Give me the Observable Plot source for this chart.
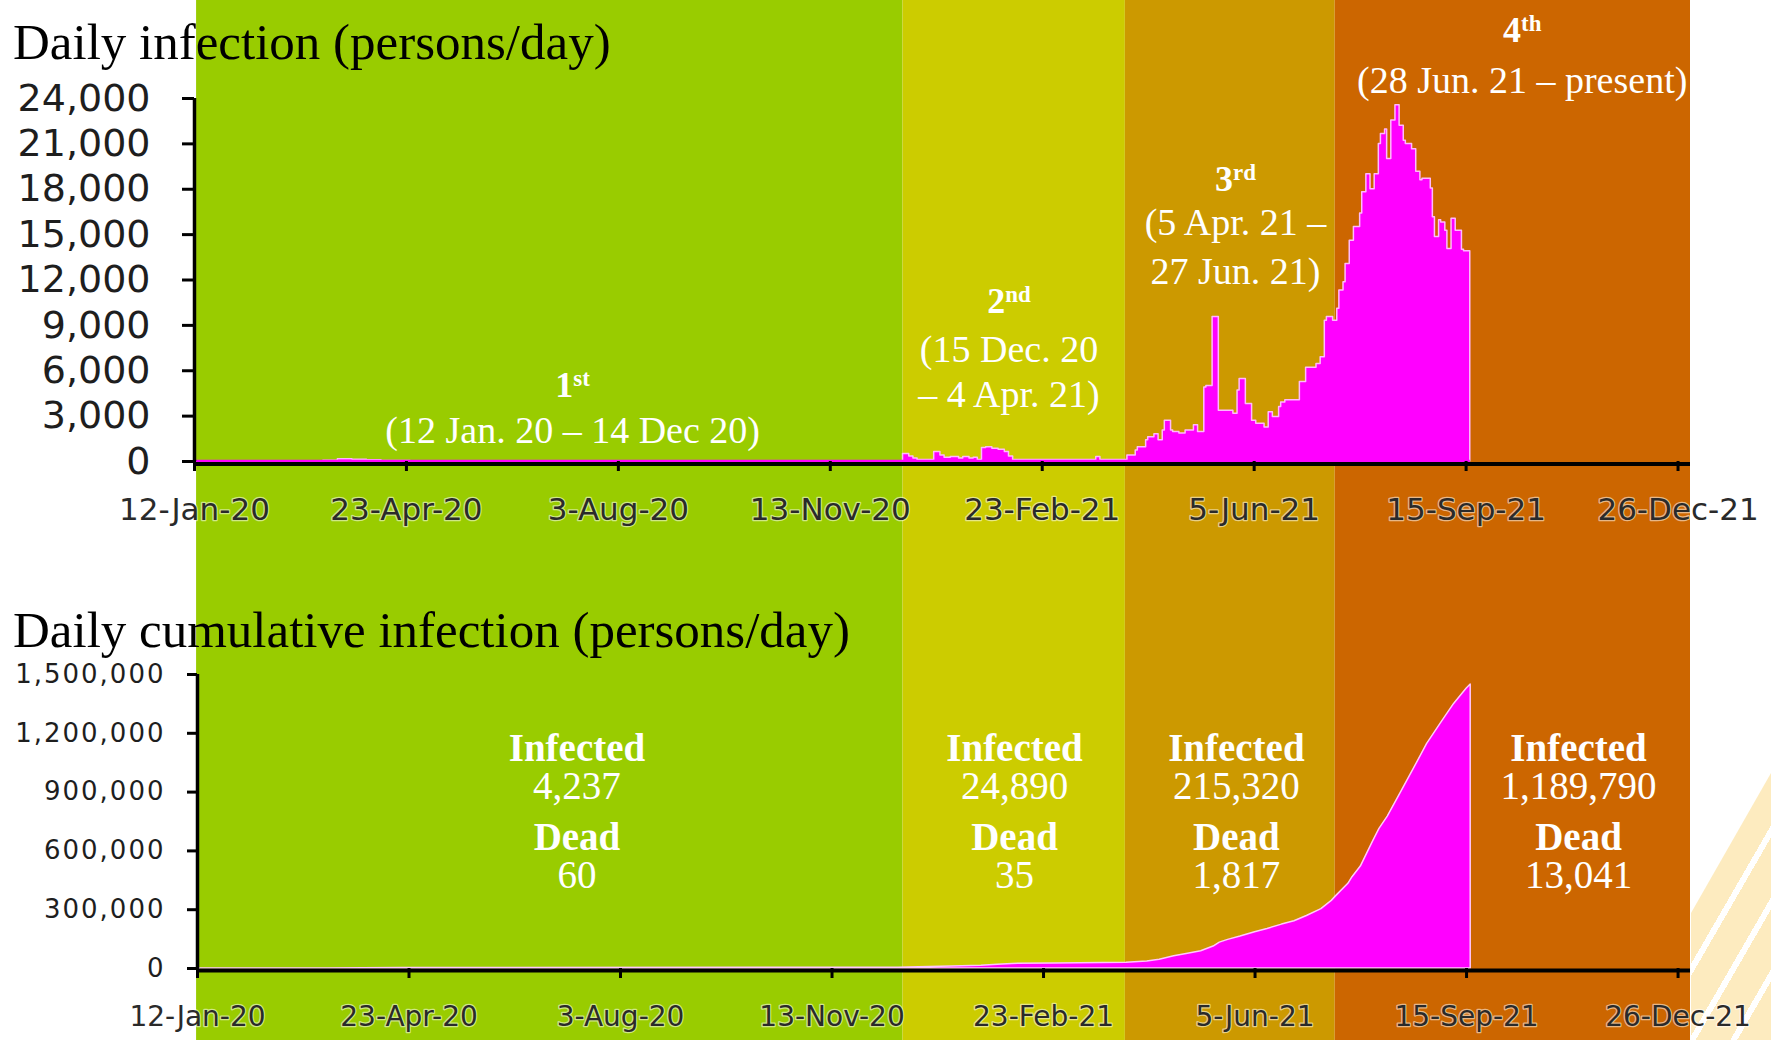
<!DOCTYPE html>
<html>
<head>
<meta charset="utf-8">
<script src="https://cdn.jsdelivr.net/npm/d3@7"></script>
<script src="https://cdn.jsdelivr.net/npm/@observablehq/plot@0.6"></script>
<style>
  html, body { margin: 0; padding: 0; background: #fff; overflow: hidden; }
  #root { position: relative; width: 1771px; height: 1040px; }
  .layer { position: absolute; left: 0; }
  .title { position: absolute; left: 13px; font-family: "Liberation Serif", serif; font-size: 51px; line-height: 51px; color: #000; white-space: nowrap; }
  .deco { position: absolute; left: 1691px; top: 760px; width: 80px; height: 280px;
    background: repeating-linear-gradient(120deg, #fdebbf 0px, #fdebbf 30px, #ffffff 30px, #ffffff 36px);
    clip-path: polygon(0px 153px, 80px 13px, 80px 280px, 0px 280px); }
  svg g[aria-label="x-axis tick label"] text { paint-order: stroke; stroke: #ffffff; stroke-width: 2.5px; stroke-opacity: 0.55; stroke-linejoin: round; }
  #bottom svg g[aria-label="y-axis tick label"] text { letter-spacing: 2px; }
</style>
</head>
<body>
<div id="root">
  <div id="bg" class="layer" style="top:0"></div>
  <div class="deco"></div>
  <div id="top" class="layer" style="top:0"></div>
  <div id="bottom" class="layer" style="top:540px"></div>
  <div class="title" style="top:17px">Daily infection (persons/day)</div>
  <div class="title" style="top:605px">Daily cumulative infection (persons/day)</div>
</div>
<script>
// ---------------- data ----------------
const xDomain = ["2020-01-12", "2022-01-01"];
const xTickLabels = ["12-Jan-20", "23-Apr-20", "3-Aug-20", "13-Nov-20", "23-Feb-21", "5-Jun-21", "15-Sep-21", "26-Dec-21"];
const dailyYTicks = [0, 3000, 6000, 9000, 12000, 15000, 18000, 21000, 24000];
const cumulativeYTicks = [0, 300000, 600000, 900000, 1200000, 1500000];

const bandStart = ["2020-01-13", "2020-12-18", "2021-04-04", "2021-07-14"];
const bandEnd   = ["2020-12-18", "2021-04-04", "2021-07-14", "2022-01-01"];
const bandColor = ["#99cc00", "#cccc00", "#cc9900", "#cc6600"];

// daily infections (step values)
const dailyInfection = [
  ["2020-01-12", 0], ["2020-03-01", 5], ["2020-03-14", 50], ["2020-03-21", 150], ["2020-03-28", 120],
  ["2020-04-04", 90], ["2020-04-11", 40], ["2020-04-18", 25], ["2020-04-25", 10], ["2020-05-02", 5],
  ["2020-06-01", 3], ["2020-12-01", 10],
  ["2020-12-18", 500], ["2020-12-21", 330], ["2020-12-23", 200], ["2020-12-25", 100],
  ["2021-01-02", 620], ["2021-01-05", 400], ["2021-01-07", 240], ["2021-01-10", 300], ["2021-01-14", 200],
  ["2021-01-16", 300], ["2021-01-19", 200], ["2021-01-21", 250], ["2021-01-23", 100], ["2021-01-25", 900],
  ["2021-01-27", 950], ["2021-01-30", 840], ["2021-02-02", 770], ["2021-02-05", 620], ["2021-02-07", 330],
  ["2021-02-09", 100], ["2021-03-21", 300], ["2021-03-23", 100],
  ["2021-04-05", 400], ["2021-04-09", 730], ["2021-04-10", 950], ["2021-04-14", 1400], ["2021-04-15", 1600],
  ["2021-04-18", 1800], ["2021-04-20", 1400], ["2021-04-22", 2050], ["2021-04-23", 2700], ["2021-04-26", 2050],
  ["2021-04-27", 1950], ["2021-04-30", 1850], ["2021-05-03", 2050], ["2021-05-07", 2400], ["2021-05-09", 1950],
  ["2021-05-12", 4900], ["2021-05-13", 5000], ["2021-05-16", 9550], ["2021-05-19", 3350], ["2021-05-26", 3150],
  ["2021-05-28", 4700], ["2021-05-29", 5450], ["2021-06-01", 3800], ["2021-06-04", 2700], ["2021-06-06", 2500],
  ["2021-06-10", 2250], ["2021-06-12", 3250], ["2021-06-14", 2950], ["2021-06-17", 3600], ["2021-06-18", 3900],
  ["2021-06-20", 4050], ["2021-06-27", 5250], ["2021-06-30", 6200], ["2021-07-05", 6450], ["2021-07-07", 6900],
  ["2021-07-09", 9300], ["2021-07-10", 9550], ["2021-07-13", 9300], ["2021-07-15", 10100], ["2021-07-16", 11300],
  ["2021-07-18", 11850], ["2021-07-19", 13050], ["2021-07-21", 14600], ["2021-07-23", 15500], ["2021-07-26", 16400],
  ["2021-07-27", 17800], ["2021-07-29", 19000], ["2021-07-31", 18000], ["2021-08-02", 19000], ["2021-08-04", 21000],
  ["2021-08-05", 21650], ["2021-08-07", 21950], ["2021-08-08", 20000], ["2021-08-10", 22550], ["2021-08-12", 23550],
  ["2021-08-14", 22200], ["2021-08-16", 21200], ["2021-08-17", 21000], ["2021-08-20", 20650], ["2021-08-22", 19150],
  ["2021-08-24", 18600], ["2021-08-25", 18700], ["2021-08-29", 18050], ["2021-08-30", 16150], ["2021-08-31", 14850],
  ["2021-09-02", 15950], ["2021-09-03", 15800], ["2021-09-05", 15250], ["2021-09-06", 14050], ["2021-09-08", 16050],
  ["2021-09-10", 15250], ["2021-09-13", 14000], ["2021-09-14", 13900], ["2021-09-17", 13900]
];

// cumulative infections
const cumulativeInfection = [
  ["2020-01-12", 0], ["2020-03-15", 114], ["2020-04-01", 1771], ["2020-04-20", 2792], ["2020-06-01", 3081],
  ["2020-12-15", 4237], ["2020-12-25", 6000], ["2021-01-10", 10000], ["2021-01-24", 13500], ["2021-02-01", 19500],
  ["2021-02-08", 23500], ["2021-03-01", 26000], ["2021-04-04", 29100], ["2021-04-14", 36000], ["2021-04-20", 45000],
  ["2021-04-27", 62000], ["2021-05-03", 74000], ["2021-05-10", 88000], ["2021-05-16", 112000], ["2021-05-19", 132000],
  ["2021-05-23", 146000], ["2021-05-29", 163000], ["2021-06-05", 185000], ["2021-06-11", 202000], ["2021-06-18", 224000],
  ["2021-06-24", 241000], ["2021-06-30", 268000], ["2021-07-07", 303000], ["2021-07-12", 345000], ["2021-07-14", 368000],
  ["2021-07-20", 432000], ["2021-07-22", 466000], ["2021-07-26", 520000], ["2021-07-29", 585000], ["2021-08-01", 650000],
  ["2021-08-04", 712000], ["2021-08-08", 775000], ["2021-08-14", 891000], ["2021-08-21", 1027000], ["2021-08-27", 1146000],
  ["2021-09-03", 1257000], ["2021-09-09", 1350000], ["2021-09-15", 1427000], ["2021-09-17", 1449000]
];

// wave annotations (top chart)
const waveOrdinal = ["1st", "2nd", "3rd", "4th"];
const waveCenter = ["2020-07-12", "2021-02-07", "2021-05-27", "2021-10-12"];
const waveOrdinalY = [4250, 9850, 17900, 27720];
const waveRangeText = ["(12 Jan. 20 – 14 Dec 20)", "(15 Dec. 20", "– 4 Apr. 21)", "(5 Apr. 21 –", "27 Jun. 21)", "(28 Jun. 21 – present)"];
const waveRangeOf = [0, 1, 1, 2, 2, 3];
const waveRangeY = [1256, 6566, 3590, 14943, 11703, 24332];

// wave totals (bottom chart)
const statCenter = ["2020-07-13", "2021-02-09", "2021-05-27", "2021-11-08"];
const infectedTotal = [4237, 24890, 215320, 1189790];
const deadTotal = [60, 35, 1817, 13041];
const statLabel = ["Infected", "Dead"];
const statBlockY = [867300, 408200]; // baseline of the number line of each block

// ---------------- build ----------------
const P = d3.utcParse("%Y-%m-%d");
const PT = d3.utcParse("%d-%b-%y");
const xDom = xDomain.map(P);
const xTicks = xTickLabels.map(PT);
const fmtDate = d3.utcFormat("%-d-%b-%y");
const fmtNum = d3.format(",");

const bands = bandStart.map((s, i) => ({start: P(s), end: P(bandEnd[i]), color: bandColor[i]}));
const daily = dailyInfection.map(([d, v]) => ({date: P(d), value: v}));
const cumul = cumulativeInfection.map(([d, v]) => ({date: P(d), value: v}));

const ordinals = waveOrdinal.map((t, i) => ({date: P(waveCenter[i]), y: waveOrdinalY[i], text: t}));
const ranges = waveRangeText.map((t, i) => ({date: P(waveCenter[waveRangeOf[i]]), y: waveRangeY[i], text: t}));
const stats = [];
statCenter.forEach((c, i) => {
  stats.push({date: P(c), y: statBlockY[0], text: statLabel[0] + "\n" + fmtNum(infectedTotal[i])});
  stats.push({date: P(c), y: statBlockY[1], text: statLabel[1] + "\n" + fmtNum(deadTotal[i])});
});

const W = 1771;
const common = {
  width: W,
  marginRight: W - 1690,
  x: {type: "utc", domain: xDom},
  style: {background: "transparent", overflow: "visible", fontFamily: "DejaVu Sans"}
};

// background bands
const bg = Plot.plot({
  ...common,
  height: 1040, marginLeft: 194, marginTop: 0, marginBottom: 0,
  x: {type: "utc", domain: xDom, axis: null},
  y: {axis: null},
  color: {type: "identity"},
  marks: [Plot.rect(bands, {x1: "start", x2: "end", fill: "color"})]
});
document.getElementById("bg").appendChild(bg);

const serif = "Liberation Serif";

// top chart
const topPlot = Plot.plot({
  ...common,
  height: 540, marginLeft: 194, marginTop: 98, marginBottom: 79,
  y: {domain: [0, 24000]},
  marks: [
    Plot.areaY(daily, {x: "date", y: "value", curve: "step-after", fill: "#ff00ff", stroke: "#ffb8ff", strokeWidth: 1.5}),
    Plot.ruleY([{y: 0, x1: daily[0].date, x2: daily[daily.length - 1].date}], {y: "y", x1: "x1", x2: "x2", stroke: "#ff00ff", strokeWidth: 2.5, dy: -0.5}),
    Plot.ruleY([0], {stroke: "#000", strokeWidth: 4, dy: 2.5}),
    Plot.ruleX([{x: xDom[0], y1: 0, y2: 24000}], {x: "x", y1: "y1", y2: "y2", stroke: "#000", strokeWidth: 3.5}),
    Plot.axisY(dailyYTicks, {tickSize: 12, tickPadding: 32, fontSize: 38, tickFormat: fmtNum, stroke: "#000", strokeWidth: 3, fill: "#1e1e1e", label: null}),
    Plot.axisX(xTicks, {tickSize: 10, tickPadding: 26, fontSize: 31, tickFormat: fmtDate, stroke: "#000", strokeWidth: 3, fill: "#2a2a2a", label: null}),
    Plot.text(ordinals, {x: "date", y: "y", text: "text", fill: "#fff", fontFamily: serif, fontWeight: "bold", fontSize: 36, textAnchor: "middle", lineAnchor: "bottom"}),
    Plot.text(ranges, {x: "date", y: "y", text: "text", fill: "#fff", fontFamily: serif, fontSize: 38, textAnchor: "middle", lineAnchor: "bottom"})
  ]
});
// superscript suffixes of ordinals
topPlot.querySelectorAll("text").forEach(t => {
  const s = t.textContent;
  const m = /^(\d)(st|nd|rd|th)$/.exec(s);
  if (!m) return;
  t.textContent = "";
  t.appendChild(document.createTextNode(m[1]));
  const ts = document.createElementNS("http://www.w3.org/2000/svg", "tspan");
  ts.setAttribute("font-size", "23");
  ts.setAttribute("dy", "-11");
  ts.textContent = m[2];
  t.appendChild(ts);
});
document.getElementById("top").appendChild(topPlot);

// bottom chart
const bottomPlot = Plot.plot({
  ...common,
  height: 500, marginLeft: 197, marginTop: 134, marginBottom: 72,
  y: {domain: [0, 1500000]},
  marks: [
    Plot.areaY(cumul, {x: "date", y: "value", curve: "linear", fill: "#ff00ff", stroke: "#ffc8ff", strokeWidth: 1.5}),
    Plot.ruleY([0], {stroke: "#000", strokeWidth: 4, dy: 2}),
    Plot.ruleX([{x: xDom[0], y1: 0, y2: 1500000}], {x: "x", y1: "y1", y2: "y2", stroke: "#000", strokeWidth: 3.5}),
    Plot.axisY(cumulativeYTicks, {tickSize: 10, tickPadding: 22, fontSize: 26, tickFormat: fmtNum, stroke: "#000", strokeWidth: 3, fill: "#1e1e1e", label: null}),
    Plot.axisX(xTicks, {tickSize: 10, tickPadding: 28, fontSize: 28, tickFormat: fmtDate, stroke: "#000", strokeWidth: 3, fill: "#2a2a2a", label: null}),
    Plot.text(stats, {x: "date", y: "y", text: "text", fill: "#fff", fontFamily: serif, fontSize: 39, lineHeight: 38 / 39, textAnchor: "middle", lineAnchor: "bottom"})
  ]
});
// first line of each block ("Infected" / "Dead") is bold
bottomPlot.querySelectorAll("text").forEach(t => {
  const first = t.querySelector("tspan");
  if (first && statLabel.includes(first.textContent)) first.setAttribute("font-weight", "bold");
});
document.getElementById("bottom").appendChild(bottomPlot);
</script>
</body>
</html>
